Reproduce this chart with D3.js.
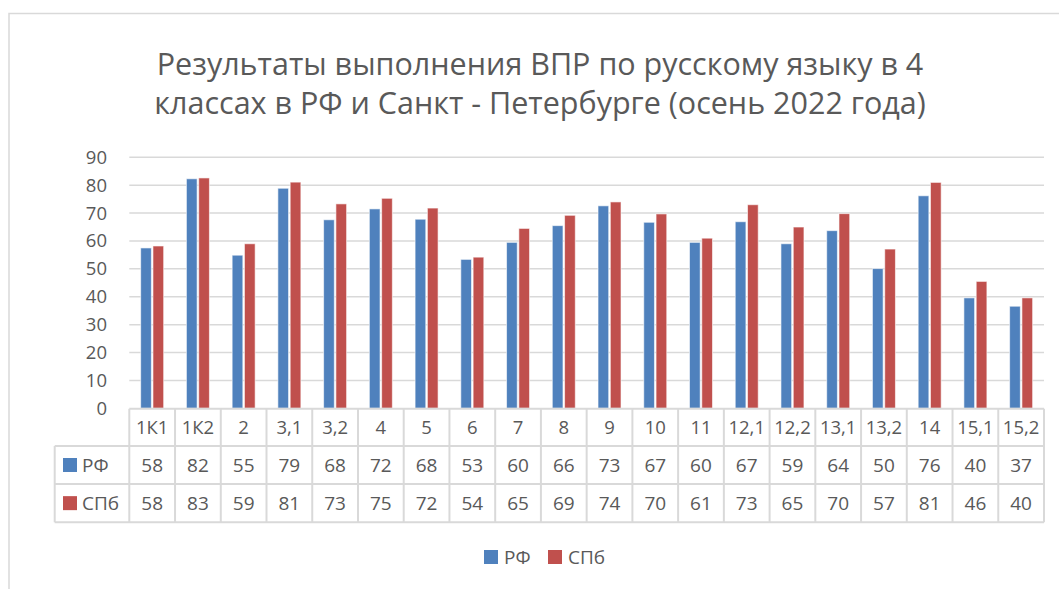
<!DOCTYPE html>
<html>
<head>
<meta charset="utf-8">
<script src="https://cdn.jsdelivr.net/npm/d3@7"></script>
<style>
  body { margin: 0; background: #fff; }
  svg text { font-family: "Open Sans", "Noto Sans", sans-serif; fill: #595959; }
</style>
</head>
<body>
<svg id="chart" width="1059" height="589"></svg>
<script>
// categories (task numbers) and the two series
const categories = ["1К1", "1К2", "2", "3,1", "3,2", "4", "5", "6", "7", "8", "9", "10", "11", "12,1", "12,2", "13,1", "13,2", "14", "15,1", "15,2"];
const rfValues  = [57.5, 82.3, 54.9, 78.9, 67.6, 71.5, 67.8, 53.4, 59.5, 65.5, 72.6, 66.7, 59.5, 66.9, 59.0, 63.7, 50.1, 76.2, 39.6, 36.6];
const spbValues = [58.2, 82.6, 59.0, 81.1, 73.3, 75.3, 71.8, 54.2, 64.5, 69.2, 74.0, 69.7, 61.0, 73.0, 65.0, 69.8, 57.1, 81.0, 45.5, 39.6];
const seriesNames = ["РФ", "СПб"];
const seriesColors = ["#4f81bd", "#c0504d"];
const yTicks = [0, 10, 20, 30, 40, 50, 60, 70, 80, 90];
const titleLines = ["Результаты выполнения ВПР по русскому языку в 4", "классах в РФ и Санкт - Петербурге (осень 2022 года)"];

const series = [rfValues, spbValues];
const svg = d3.select("#chart");
const gridColor = "#d9d9d9";

// outer chart border
svg.append("rect")
    .attr("x", 9).attr("y", 13.5)
    .attr("width", 1060).attr("height", 600)
    .attr("fill", "none")
    .attr("stroke", gridColor)
    .attr("stroke-width", 1.5);

// title
svg.selectAll(".title")
    .data(titleLines)
    .enter()
    .append("text")
    .attr("class", "title")
    .attr("x", 540)
    .attr("y", (d, i) => 75 + i * 38.5)
    .attr("text-anchor", "middle")
    .style("font-size", "30.5px")
    .text(d => d);

const left = 129.3, right = 1044;
const x = d3.scaleBand().domain(categories).range([left, right]);
const y = d3.scaleLinear().domain([0, 90]).range([408.3, 157.3]);
const inner = d3.scaleBand().domain([0, 1]).range([-11.5, 11.5]).paddingInner(0.13);

// gridlines
svg.append("g")
    .selectAll("line")
    .data(yTicks.slice(1))
    .enter()
    .append("line")
    .attr("x1", left).attr("x2", right)
    .attr("y1", d => y(d)).attr("y2", d => y(d))
    .attr("stroke", gridColor)
    .attr("stroke-width", 1.5);

// y tick labels
svg.append("g")
    .selectAll("text")
    .data(yTicks)
    .enter()
    .append("text")
    .attr("x", 107)
    .attr("y", d => y(d) + 6.5)
    .attr("text-anchor", "end")
    .style("font-size", "18.5px")
    .text(d => d);

// bars
series.forEach(function (vals, s) {
    svg.append("g")
        .selectAll("rect")
        .data(vals)
        .enter()
        .append("rect")
        .attr("x", (d, i) => x(categories[i]) + x.bandwidth() / 2 + inner(s))
        .attr("y", d => y(d))
        .attr("width", inner.bandwidth())
        .attr("height", d => y(0) - y(d))
        .attr("fill", seriesColors[s])
        .attr("stroke", "#ffffff")
        .attr("stroke-opacity", 0.6)
        .attr("stroke-width", 1);
});

// data table
const rowTop = [408.8, 446, 484, 522.3];
const tableLeft = 54.7;
const tbl = svg.append("g");

// horizontal lines
tbl.selectAll(".hline")
    .data(rowTop)
    .enter()
    .append("line")
    .attr("x1", (d, i) => i === 0 ? left : tableLeft)
    .attr("x2", right)
    .attr("y1", d => d).attr("y2", d => d)
    .attr("stroke", gridColor)
    .attr("stroke-width", 2);

// vertical lines
const vx = categories.map(c => x(c)).concat([right]);
tbl.selectAll(".vline")
    .data(vx)
    .enter()
    .append("line")
    .attr("x1", d => d).attr("x2", d => d)
    .attr("y1", rowTop[0]).attr("y2", rowTop[3])
    .attr("stroke", gridColor)
    .attr("stroke-width", 2);
tbl.append("line")
    .attr("x1", tableLeft).attr("x2", tableLeft)
    .attr("y1", rowTop[1]).attr("y2", rowTop[3])
    .attr("stroke", gridColor)
    .attr("stroke-width", 2);

// header labels
tbl.selectAll(".cat")
    .data(categories)
    .enter()
    .append("text")
    .attr("x", d => x(d) + x.bandwidth() / 2)
    .attr("y", (rowTop[0] + rowTop[1]) / 2 + 6.5)
    .attr("text-anchor", "middle")
    .style("font-size", "18.5px")
    .text(d => d);

// value rows
series.forEach(function (vals, s) {
    const cy = (rowTop[s + 1] + rowTop[s + 2]) / 2;
    tbl.append("g")
        .selectAll("text")
        .data(vals)
        .enter()
        .append("text")
        .attr("x", (d, i) => x(categories[i]) + x.bandwidth() / 2)
        .attr("y", cy + 7)
        .attr("text-anchor", "middle")
        .style("font-size", "19px")
        .text(d => Math.round(d));

    tbl.append("rect")
        .attr("x", 63).attr("y", cy - 7)
        .attr("width", 14).attr("height", 14)
        .attr("fill", seriesColors[s]);
    tbl.append("text")
        .attr("x", 82).attr("y", cy + 7)
        .style("font-size", "19px")
        .text(seriesNames[s]);
});

// bottom legend
const legend = svg.append("g");
const legendX = [484, 548];
seriesNames.forEach(function (name, s) {
    legend.append("rect")
        .attr("x", legendX[s]).attr("y", 550)
        .attr("width", 14).attr("height", 14)
        .attr("fill", seriesColors[s]);
    legend.append("text")
        .attr("x", legendX[s] + 20).attr("y", 564)
        .style("font-size", "19px")
        .text(name);
});
</script>
</body>
</html>
